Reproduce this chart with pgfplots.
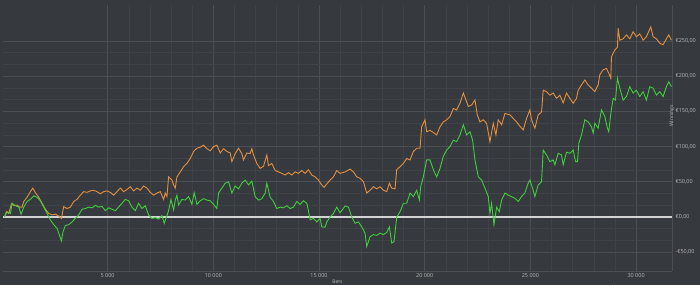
\documentclass[border=0pt]{standalone}
\usepackage{pgfplots}
\pgfplotsset{compat=1.18}
\usepackage{fontspec}
\setmainfont{Open Sans}
\definecolor{bg}{HTML}{36393D}
\definecolor{gridmin}{HTML}{3F4246}
\definecolor{gridmaj}{HTML}{4B4E53}
\definecolor{txt}{HTML}{B8BABC}
\definecolor{orangeL}{HTML}{E39040}
\definecolor{greenL}{HTML}{3FCF3F}
\definecolor{zeroL}{HTML}{D4D4D4}
\begin{document}
\begin{tikzpicture}
\fill[bg] (0,0) rectangle (700pt,285pt);
\begin{axis}[
  at={(3pt,14pt)}, anchor=south west,
  scale only axis, width=669pt, height=266pt,
  xmin=50, xmax=31700, ymin=-76.7, ymax=301,
  axis line style={draw=gridmaj, line width=0.6pt},
  axis y line*=right,
  axis x line*=bottom,
  xtick={5000,10000,15000,20000,25000,30000},
  xticklabels={5 000,10 000,15 000,20 000,25 000,30 000},
  ytick={-50,0,50,100,150,200,250},
  yticklabels={{-€50,00},{€0,00},{€50,00},{€100,00},{€150,00},{€200,00},{€250,00}},
  minor x tick num=4, minor y tick num=2,
  major tick length=0pt, minor tick length=0pt,
  grid=both,
  major grid style={draw=gridmaj, line width=0.6pt},
  minor grid style={draw=gridmin, line width=0.5pt},
  tick label style={font=\fontsize{5.5}{6}\selectfont, text=txt},
  xticklabel style={yshift=1pt},
  xlabel={Bets}, ylabel={Winnings},
  label style={font=\fontsize{5}{6}\selectfont, text=txt},
  xlabel style={at={(rel axis cs:0.5,0)}, anchor=center, yshift=-11pt},
  ylabel style={at={(rel axis cs:1,0.5)}, anchor=center, xshift=22pt},
  clip=true,
]
\addplot[draw=zeroL, line width=1.6pt] coordinates {(50,0) (31700,0)};
\addplot[draw=orangeL, line width=0.9pt] coordinates {
(118,0) (213,7.5) (323,5) (449,18.5) (591,16) (717,17) (843,14) (953,14) (1032,22) (1189,28)
(1347,36) (1457,41) (1583,34.5) (1741,28) (1898,19.5) (2056,11) (2213,5) (2371,3) (2528,4) (2686,1.4)
(2812,-2) (2922,14.6) (3080,12) (3237,14) (3395,22) (3552,25) (3710,31) (3867,36) (4025,35) (4182,37)
(4340,38) (4497,36) (4655,33) (4812,36) (4970,37) (5127,35) (5285,31) (5443,36) (5600,41) (5758,36)
(5915,39) (6073,43) (6230,37) (6388,41) (6545,38) (6703,44) (6860,41) (7018,35) (7175,31) (7333,34)
(7490,36) (7648,25) (7727,34) (7806,29) (7884,57) (8042,52.5) (8121,45.5) (8199,41) (8278,57) (8436,64)
(8593,71.5) (8751,76) (8908,83) (9066,93) (9223,97.6) (9381,99) (9538,102) (9696,97) (9853,94) (10011,100)
(10168,102) (10326,91) (10483,97) (10641,93) (10799,91) (10877,78.6) (11035,90) (11192,97.6) (11350,90) (11429,81)
(11586,91) (11744,90) (11822,97) (11901,88) (12059,76) (12216,69) (12374,72) (12531,88) (12610,73) (12767,76)
(12925,66) (13083,64) (13240,62) (13398,59.6) (13555,63) (13713,59.6) (13870,64) (14028,62) (14185,66) (14343,62)
(14500,67) (14658,59.6) (14815,57) (14973,52.5) (15130,45.5) (15241,42) (15367,47) (15524,52.5) (15682,57) (15840,66)
(15998,62) (16234,64) (16471,68) (16628,64) (16786,57) (16943,55) (17101,50) (17258,34) (17416,38) (17573,43)
(17731,40) (17888,43) (18046,38) (18203,36) (18329,48) (18440,41) (18597,40) (18676,67) (18834,71.5) (18991,76)
(19149,83) (19306,81) (19464,93) (19621,97.6) (19779,97.6) (19857,128) (20015,138) (20094,121) (20251,123) (20409,120)
(20566,116.5) (20724,128) (20881,135) (21039,138) (21196,142.5) (21354,154) (21512,152) (21669,161.5) (21827,176) (21953,166)
(22063,157) (22220,159) (22378,166) (22488,145) (22614,135) (22772,138) (22929,133) (23087,107) (23244,133) (23370,116.5)
(23481,138) (23638,131) (23796,147) (24031,145) (24189,140) (24346,135) (24504,129) (24661,123.6) (24819,140) (24976,152)
(25055,138) (25213,126) (25370,145) (25528,149) (25607,180) (25764,178) (25922,173) (26079,176) (26237,168.5) (26394,173)
(26552,162) (26709,176) (26867,168.5) (27024,161.5) (27182,168.5) (27261,180) (27418,187.5) (27576,194.6) (27733,187.5) (27891,183)
(28048,178) (28206,187.5) (28285,202) (28442,209) (28600,211) (28710,204) (28805,197) (28836,227.7) (28994,237) (29119,241)
(29151,268) (29230,251) (29387,253) (29545,258.5) (29702,253) (29860,263) (30017,256) (30175,260) (30333,251) (30490,256)
(30695,270) (30805,256) (30963,253) (31120,246.7) (31278,244.6) (31435,253) (31546,258.5) (31672,251)
};
\addplot[draw=greenL, line width=0.9pt] coordinates {
(118,0) (244,7.5) (402,5) (480,19.5) (638,16) (795,14) (906,4) (1032,14) (1189,22) (1347,25)
(1504,30) (1662,28) (1819,23) (1977,14) (2134,5) (2292,-4) (2449,-11) (2607,-16) (2717,-25.6) (2812,-34)
(2891,-21) (3001,-12) (3159,-11) (3316,-7) (3474,-2) (3631,3) (3789,11) (3946,12) (4104,14) (4261,13)
(4419,16.5) (4576,14) (4734,15) (4891,9) (5049,13) (5206,11) (5364,9) (5521,14) (5679,19.5) (5836,25)
(5994,23) (6151,14) (6309,9) (6466,19.5) (6624,12) (6781,16) (6939,3) (7097,-2) (7254,-1) (7412,-3)
(7569,2) (7680,-9) (7806,2) (7884,9) (7995,25) (8121,10) (8199,24) (8278,31) (8357,17) (8514,25)
(8672,24) (8829,29) (8987,18) (9097,34.5) (9223,18) (9381,23) (9538,26) (9696,24) (9853,23) (10011,18)
(10168,12) (10247,34) (10405,41) (10562,48) (10720,50) (10877,34) (11035,44) (11192,40) (11350,48) (11507,52.5)
(11665,45.5) (11822,51) (11980,29) (12137,24) (12295,26) (12453,34) (12531,48) (12689,28) (12846,22) (13004,12)
(13161,14) (13319,13) (13477,16) (13634,12) (13792,14) (13949,22) (14107,18) (14264,23) (14422,19.5) (14500,9)
(14579,-4) (14737,-2) (14894,-7) (15052,-2) (15130,-14) (15288,-14.5) (15367,-7) (15524,0) (15682,5) (15840,14)
(15998,6) (16234,15.6) (16392,14) (16549,0) (16707,-9) (16864,-7) (17022,-14) (17179,-23) (17258,-42) (17416,-28)
(17573,-25) (17731,-26) (17888,-23) (18046,-25) (18203,-22) (18329,-14) (18440,-37) (18550,-35) (18676,0) (18834,7.5)
(18991,19.5) (19149,19.5) (19306,34) (19464,29) (19621,38) (19747,24) (19810,43) (19936,57) (20094,81) (20251,81)
(20409,67) (20566,57) (20724,69) (20881,86) (21039,95) (21196,100) (21354,109) (21512,107) (21669,116.5) (21827,131)
(21984,116.5) (22142,121) (22268,109) (22378,81) (22535,57) (22693,52.5) (22850,41) (23008,29) (23087,5) (23166,19.5)
(23276,-11) (23402,14) (23528,7.5) (23638,24) (23796,34) (23953,31) (24111,29) (24268,26.6) (24425,22) (24583,29)
(24740,34) (24898,48) (24976,52.5) (25134,38) (25213,29) (25370,45.5) (25528,50) (25607,95) (25764,88) (25922,78.6)
(26079,81) (26158,74) (26315,90.5) (26473,88) (26552,74) (26709,92) (26867,90.5) (27024,95) (27135,78.6) (27229,78.6)
(27292,104.7) (27418,116.5) (27576,138) (27733,135) (27891,128) (27970,119) (28048,133) (28206,126) (28364,152) (28521,142.5)
(28647,126) (28710,121) (28805,147) (28915,168.5) (29025,166) (29119,197) (29230,183) (29387,166) (29545,171) (29702,185)
(29860,176) (30017,180) (30175,171) (30333,178) (30490,166) (30648,185) (30805,183) (30963,173) (31120,178) (31278,171)
(31435,185) (31546,192) (31672,185)
};
\end{axis}
\pgfresetboundingbox
\path[use as bounding box] (0,0) rectangle (700pt,285pt);
\end{tikzpicture}
\end{document}
